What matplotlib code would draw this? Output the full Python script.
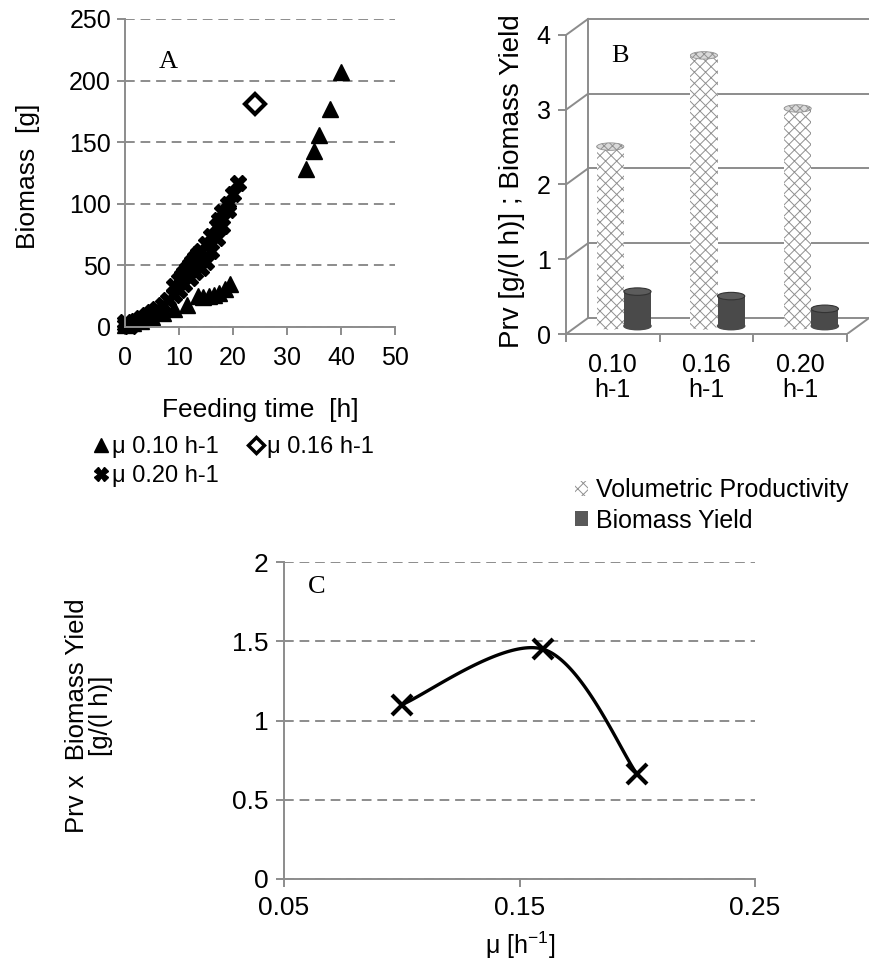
import numpy as np
import matplotlib
matplotlib.use('Agg')
import matplotlib.pyplot as plt
from matplotlib.patches import Ellipse, Patch
from matplotlib.lines import Line2D

# ---- data -------------------------------------------------------------
# panel A : biomass vs feeding time
t_010 = [0, 1.5, 3, 5, 7, 9, 11.5, 13.5, 14.5, 15.5, 16.5, 17.5, 18.5, 19.5,
         33.5, 35, 36, 38, 40]
m_010 = [2, 3, 5, 8, 11, 15, 18, 25, 24, 25, 26, 28, 31, 35,
         128, 143, 156, 177, 207]
t_016 = [24]
m_016 = [181]
t_020 = [0, 0, 1, 2, 3, 4, 5, 6, 7, 8, 9, 10, 11, 12, 13, 14, 15, 16, 17, 18, 19,
         9, 10, 10.5, 11, 11.5, 12, 12.5, 13, 13.5, 14, 15, 16, 17, 17.5, 18, 19, 20, 21]
m_020 = [2, 4, 1, 5, 7, 10, 12, 15, 18, 22, 26, 30, 35, 40, 45, 48, 53, 62, 72, 82, 95,
         33, 38, 41, 44, 47, 50, 53, 56, 59, 62, 67, 74, 82, 87, 93, 100, 108, 117]

# panel B : productivity and yield per growth rate
cats_b = ['0.10\nh-1', '0.16\nh-1', '0.20\nh-1']
prv = [2.40, 3.62, 2.91]
yld = [0.46, 0.40, 0.23]

# panel C : Prv x yield vs mu
mu_c = [0.10, 0.16, 0.20]
prod_c = [1.10, 1.45, 0.66]

# ---- style ------------------------------------------------------------
sans = 'Liberation Sans'
plt.rcParams['font.family'] = [sans, 'DejaVu Sans']
plt.rcParams['font.size'] = 18
plt.rcParams['hatch.linewidth'] = 0.7
plt.rcParams['mathtext.fontset'] = 'custom'
plt.rcParams['mathtext.rm'] = sans
plt.rcParams['mathtext.default'] = 'regular'

grey = '#8c8c8c'
W, H = 870, 966
fig = plt.figure(figsize=(W / 100, H / 100), dpi=100)


def rect(l, t, r, b):
    return [l / W, 1 - b / H, (r - l) / W, (b - t) / H]


def style_axes(ax):
    for s in ['top', 'right']:
        ax.spines[s].set_visible(False)
    for s in ['left', 'bottom']:
        ax.spines[s].set_color(grey)
        ax.spines[s].set_linewidth(1.4)
    ax.tick_params(color=grey, width=1.4, length=6, direction='out')
    ax.grid(axis='y', color=grey, linewidth=1.4, linestyle=(0, (5, 3)))
    ax.set_axisbelow(True)


# ---- panel A ------------------------------------------------------------
axA = fig.add_axes(rect(125, 19, 395, 327))
style_axes(axA)
axA.plot(t_010, m_010, ls='none', marker='^', ms=12, color='k', clip_on=False)
axA.plot(t_016, m_016, ls='none', marker='D', ms=10, mfc='white', mec='k',
         mew=3, clip_on=False)
axA.plot(t_020, m_020, ls='none', marker='X', ms=12, color='k', clip_on=False)
axA.set_xlim(0, 50)
axA.set_ylim(0, 250)
axA.set_xticks(range(0, 51, 10))
axA.set_yticks(range(0, 251, 50))
axA.tick_params(axis='x', pad=8)
axA.tick_params(axis='y', pad=4)
axA.text(8, 215, 'A', family='Liberation Serif', fontsize=19, ha='center', va='center')
fig.text(28 / W, 1 - 176 / H, 'Biomass  [g]', rotation=90, ha='center',
         va='center', fontsize=19)
fig.text(260 / W, 1 - 410 / H, 'Feeding time  [h]', ha='center', va='center',
         fontsize=19)

hA = [Line2D([], [], ls='none', marker='^', color='k', ms=10),
      Line2D([], [], ls='none', marker='X', color='k', ms=10),
      Line2D([], [], ls='none', marker='D', mfc='white', mec='k', mew=2.5, ms=8)]
fig.legend(hA, ['μ 0.10 h-1', 'μ 0.20 h-1', 'μ 0.16 h-1'], ncol=2,
           loc='upper left', bbox_to_anchor=(82 / W, 1 - 424 / H), frameon=False,
           borderpad=0, handlelength=0.6, handletextpad=0.15, columnspacing=1.3,
           labelspacing=0.3, fontsize=17)

# ---- panel B ------------------------------------------------------------
axB = fig.add_axes(rect(566, 10, 870, 334))
px_x, px_y = 93.7, 74.75
axB.set_xlim(0, (870 - 566) / px_x)
axB.set_ylim(0, 324 / px_y)
dx, dy = 22 / px_x, 16 / px_y
for s in ['top', 'right']:
    axB.spines[s].set_visible(False)
for s in ['left', 'bottom']:
    axB.spines[s].set_color(grey)
    axB.spines[s].set_linewidth(1.4)
axB.spines['left'].set_bounds(0, 4)
axB.spines['bottom'].set_bounds(0, 3)
axB.set_yticks(range(0, 5))
axB.set_xticks(range(0, 4))
axB.set_xticklabels([])
axB.set_xticks(np.arange(len(cats_b)) + 0.5, minor=True)
axB.set_xticklabels(cats_b, minor=True, linespacing=1.05)
axB.tick_params(axis='both', which='major', color=grey, width=1.4, length=6)
axB.tick_params(axis='x', which='minor', length=0, pad=14)
axB.tick_params(axis='y', pad=5)

wall = dict(color=grey, lw=1.4, clip_on=True)
for v in range(0, 5):
    axB.plot([0, dx], [v, v + dy], **wall)
    axB.plot([dx, 4], [v + dy, v + dy], **wall)
axB.plot([dx, dx], [dy, 4 + dy], **wall)
axB.plot([3, 3 + dx], [0, dy], **wall)

bw = 0.29
base = dy / 2
xc = np.arange(len(cats_b)) + 0.5 + dx / 2
eh = 0.1
for i in range(len(cats_b)):
    x0 = xc[i] - bw / 2
    axB.bar(x0, prv[i], width=bw, bottom=base, facecolor='white',
            edgecolor='#909090', linewidth=0, hatch='xxx', zorder=3)
    axB.add_patch(Ellipse((x0, base + prv[i]), bw, eh, facecolor='#d9d9d9',
                          edgecolor='#909090', lw=0.6, hatch='xxxx', zorder=4))
    axB.add_patch(Ellipse((x0, base), bw, eh, facecolor='white',
                          edgecolor='#909090', lw=0, hatch='xxx', zorder=2))
    x1 = xc[i] + bw / 2
    axB.bar(x1, yld[i], width=bw, bottom=base, color='#4a4a4a', linewidth=0, zorder=3)
    axB.add_patch(Ellipse((x1, base), bw, eh, color='#4a4a4a', zorder=3))
    axB.add_patch(Ellipse((x1, base + yld[i]), bw, eh, facecolor='#5c5c5c',
                          edgecolor='#333333', lw=0.8, zorder=4))

axB.text(0.58, 3.72, 'B', family='Liberation Serif', fontsize=19, ha='center', va='center')
fig.text(512 / W, 1 - 181 / H, 'Prv [g/(l h)] ; Biomass Yield', rotation=90,
         ha='center', va='center', fontsize=20)

hB = [Patch(facecolor='white', edgecolor='#909090', linewidth=0, hatch='xxx'),
      Patch(facecolor='#595959', linewidth=0)]
fig.legend(hB, ['Volumetric Productivity', 'Biomass Yield'], loc='upper left',
           bbox_to_anchor=(562 / W, 1 - 466 / H), frameon=False, borderpad=0,
           handlelength=0.55, handleheight=0.55, handletextpad=0.3,
           labelspacing=0.25, fontsize=18)

# ---- panel C ------------------------------------------------------------
axC = fig.add_axes(rect(284, 562, 755, 879))
style_axes(axC)
axC.set_xlim(0.05, 0.25)
axC.set_ylim(0, 2)
axC.set_xticks([0.05, 0.15, 0.25])
axC.set_xticklabels(['0.05', '0.15', '0.25'], fontsize=19)
axC.set_yticks([0, 0.5, 1, 1.5, 2])
axC.set_yticklabels(['0', '0.5', '1', '1.5', '2'], fontsize=19)
axC.tick_params(axis='x', pad=6)
axC.tick_params(axis='y', pad=5)

# smoothed line (Excel-like bezier through the points)
sx = 471 / 0.2
sy = 317 / 2
P = np.column_stack([np.array(mu_c) * sx, np.array(prod_c) * sy])
n = len(P)
tt = np.linspace(0, 1, 60)[:, None]
curve = []
for i in range(n - 1):
    pm = P[max(i - 1, 0)]
    pp = P[min(i + 2, n - 1)]
    c1 = P[i] + (P[i + 1] - pm) / 6
    c2 = P[i + 1] - (pp - P[i]) / 6
    seg = ((1 - tt) ** 3) * P[i] + 3 * ((1 - tt) ** 2) * tt * c1 \
        + 3 * (1 - tt) * tt ** 2 * c2 + tt ** 3 * P[i + 1]
    curve.append(seg)
curve = np.vstack(curve)
axC.plot(curve[:, 0] / sx, curve[:, 1] / sy, color='k', lw=2.4)
axC.plot(mu_c, prod_c, ls='none', marker='x', ms=15, mew=3, color='k', clip_on=False)
axC.text(0.064, 1.84, 'C', family='Liberation Serif', fontsize=19, ha='center', va='center')
fig.text(89 / W, 1 - 716 / H, 'Prv x  Biomass Yield\n[g/(l h)]', rotation=90,
         ha='center', va='center', linespacing=1.0, fontsize=18.5)
fig.text(520 / W, 1 - 945 / H, 'μ [h$^{-1}$]', ha='center', va='center', fontsize=18)

fig.savefig('out.png', dpi=100)
